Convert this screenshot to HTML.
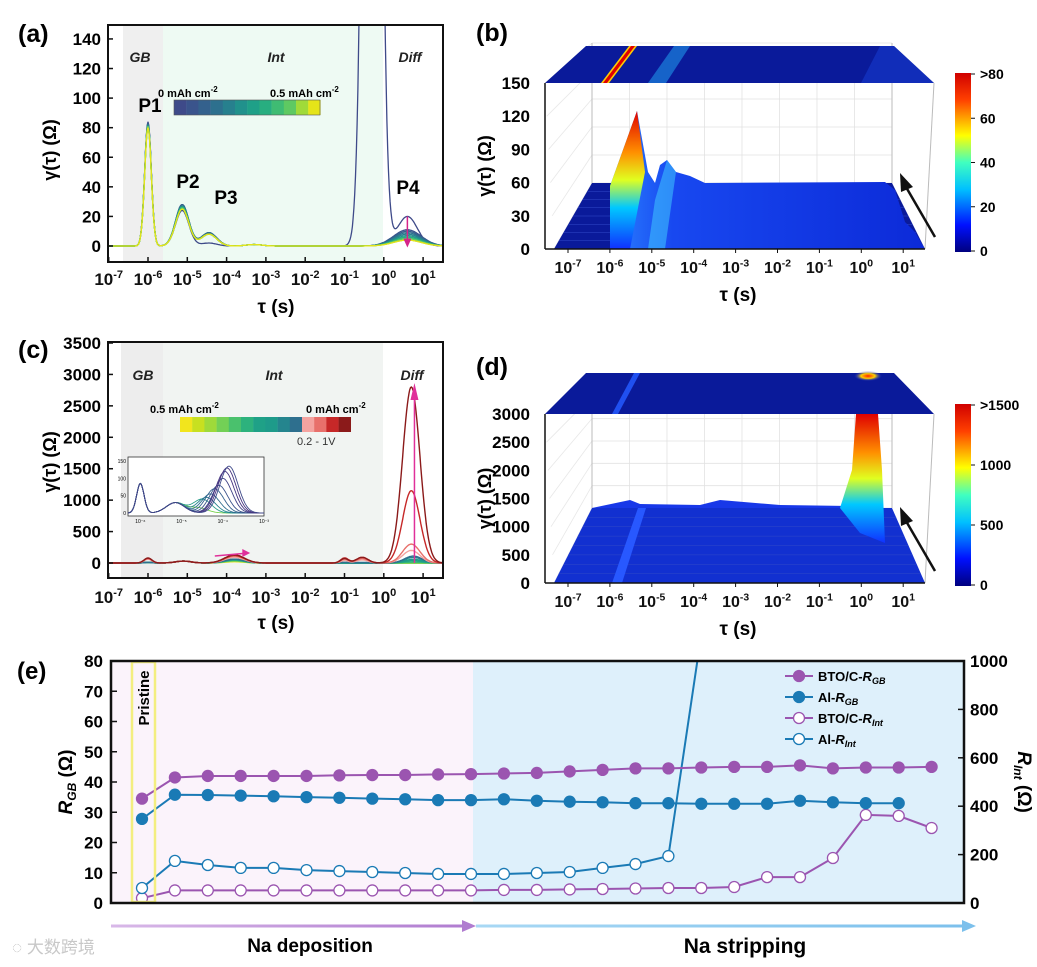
<!DOCTYPE html>
<html><head><meta charset="utf-8"><style>
html,body{margin:0;padding:0;background:#fff}
svg{display:block;font-family:"Liberation Sans","Noto Sans CJK SC",sans-serif}
</style></head><body>
<svg id="s" width="1037" height="967" viewBox="0 0 1037 967" xmlns="http://www.w3.org/2000/svg">
<defs>
<clipPath id="ca"><rect x="108" y="25" width="335" height="237"/></clipPath>
<clipPath id="cc"><rect x="108" y="342" width="335" height="236"/></clipPath>
<clipPath id="ce"><rect x="111" y="661" width="853" height="242"/></clipPath>
<clipPath id="ci"><rect x="128" y="457" width="136" height="59"/></clipPath>
<linearGradient id="jet" x1="0" y1="1" x2="0" y2="0">
<stop offset="0" stop-color="#00007f"/><stop offset="0.15" stop-color="#0010ff"/><stop offset="0.35" stop-color="#00c0ff"/><stop offset="0.5" stop-color="#40ffc0"/><stop offset="0.65" stop-color="#ffff00"/><stop offset="0.85" stop-color="#ff4000"/><stop offset="1" stop-color="#d00000"/></linearGradient>
<linearGradient id="ridge" x1="0" y1="1" x2="0" y2="0">
<stop offset="0" stop-color="#1030ff"/><stop offset="0.3" stop-color="#00c8ff"/><stop offset="0.5" stop-color="#e0ff20"/><stop offset="0.7" stop-color="#ff9000"/><stop offset="1" stop-color="#e00000"/></linearGradient>
<linearGradient id="body" x1="0" y1="0" x2="1" y2="0">
<stop offset="0" stop-color="#2a80ff"/><stop offset="0.2" stop-color="#1848f0"/><stop offset="1" stop-color="#0c2ad8"/></linearGradient>
<linearGradient id="arrP" x1="0" x2="1"><stop offset="0" stop-color="#d8b8e8"/><stop offset="1" stop-color="#b07cd0"/></linearGradient>
<linearGradient id="arrB" x1="0" x2="1"><stop offset="0" stop-color="#a8d8f4"/><stop offset="1" stop-color="#7cc0ec"/></linearGradient>
<radialGradient id="hot"><stop offset="0" stop-color="#ff2000"/><stop offset="0.5" stop-color="#ffd000"/><stop offset="1" stop-color="#1030e0" stop-opacity="0"/></radialGradient>
</defs>
<g id="root"></g>
</svg>
<script>
// ---------- Panel (a) data ----------
const aColors=['#3e4a89','#3a548c','#34618d','#2d708e','#27808e','#21918c','#1fa088','#28ae80','#3fbc73','#5ec962','#a0da39','#e5e419'];
const aP1=[84,83,83,82,82,82,81,81,81,81,80,80];
const aP2=[24,28,28,27,27,27,26,26,26,25,25,25];
const aP3=[2,9,9,9,8,8,8,8,8,8,8,8];
const aP4=[20,11,10,9,8,7,6,6,5,5,4,4];
const aSpike=[1000,0,0,0,0,0,0,0,0,0,0,0];
const aYTicks=[0,20,40,60,80,100,120,140];
// ---------- Panel (c) data ----------
const cColors=['#f2e51d','#c8e020','#9fda3a','#73d056','#4ac16d','#2db27d','#1fa187','#1e9b8a','#25858e','#2e6f8e','#f4a3a0','#e8706b','#c62828','#8b1a1a'];
const cDiff=[0,0,0,0,10,20,40,60,90,110,200,300,1150,2800];
const cIntB=[20,25,30,35,40,45,50,55,60,60,90,110,120,130];
const cGB=[10,10,10,10,10,10,10,10,10,10,60,70,75,80];
const cB1=[0,0,0,0,0,0,0,0,10,10,40,60,80,70];
const cB2=[0,0,0,0,0,0,0,0,0,10,50,70,90,90];
const cYTicks=[0,500,1000,1500,2000,2500,3000,3500];
const inCenters=[-4.6,-4.5,-4.4,-4.3,-4.2,-4.1,-4,-3.95,-3.9,-3.85];
const inHeights=[15,40,45,55,70,80,100,120,130,135];
const inColors=['#7ad151','#2a9d8a','#26838f','#2e6e8e','#33608d','#3a528b','#404387','#453581','#463480','#3f4a8a'];
// ---------- Panel (e) data ----------
const eBtoGB=[34.5,41.5,42,42,42,42,42.2,42.3,42.3,42.5,42.6,42.8,43,43.5,44,44.5,44.5,44.8,45,45,45.5,44.5,44.8,44.8,45];
const eAlGB=[27.8,35.8,35.7,35.5,35.3,35,34.8,34.5,34.3,34,34,34.3,33.8,33.5,33.3,33,33,32.8,32.8,32.8,33.8,33.3,33,33];
const eBtoInt=[20,52,52,52,52,52,52,52,52,52,52,54,54,56,58,60,62,62,66,107,107,186,364,360,310];
const eAlInt=[62,174,157,145,145,136,132,128,124,120,120,120,124,128,145,161,194,1110];
const eLTicks=[0,10,20,30,40,50,60,70,80];
const eRTicks=[0,200,400,600,800,1000];
const logTicks=[-7,-6,-5,-4,-3,-2,-1,0,1];

const NS='http://www.w3.org/2000/svg';
const root=document.getElementById('root');
function mk(tag,attrs,parent,text){const e=document.createElementNS(NS,tag);for(const k in attrs)e.setAttribute(k,attrs[k]);if(text!==undefined)e.textContent=text;(parent||root).appendChild(e);return e;}
function sup(x,y,exp,size,parent){const t=mk('text',{x:x,y:y,'font-size':size,'font-weight':'bold','text-anchor':'middle',fill:'#111'},parent);
 const a=document.createElementNS(NS,'tspan');a.textContent='10';t.appendChild(a);
 const b=document.createElementNS(NS,'tspan');b.setAttribute('dy',-size*0.4);b.setAttribute('font-size',size*0.65);b.textContent=exp;t.appendChild(b);return t;}
function unitLabel(x,y,txt,parent){const t=mk('text',{x:x,y:y,'font-size':11,'font-weight':'bold'},parent,txt);
 const b=document.createElementNS(NS,'tspan');b.setAttribute('dy',-5);b.setAttribute('font-size',8);b.textContent='-2';t.appendChild(b);return t;}
function gauss(lx,c,w){return Math.exp(-0.5*((lx-c)/w)**2);}

// ===== Panel (a) =====
const ax=l=>108.7+39.3*(l+7), ay=v=>246-v*1.479;
const ga=mk('g',{});


mk('rect',{x:123,y:25,width:40,height:237,fill:'#efefef'},ga);
mk('rect',{x:163,y:25,width:220,height:237,fill:'#eefaf3'},ga);
const pa=mk('g',{'clip-path':'url(#ca)'},ga);
for(let i=0;i<aColors.length;i++){let d='';for(let lx=-7.3;lx<=1.55;lx+=0.02){const w4=i===0?0.25:0.35;const v=aP1[i]*gauss(lx,-6,0.085)+aP2[i]*gauss(lx,-5.13,0.17)+aP3[i]*gauss(lx,-4.45,0.2)+aP4[i]*gauss(lx,0.6,w4)+aSpike[i]*gauss(lx,-0.3,0.17)+1*gauss(lx,-3.3,0.2);d+=(d?'L':'M')+ax(lx).toFixed(1)+','+ay(v).toFixed(1);}
 const p=mk('path',{d:d,fill:'none',stroke:aColors[i],'stroke-width':1.3},pa);
 
 }
mk('line',{x1:ax(0.6),y1:ay(20),x2:ax(0.6),y2:ay(2),stroke:'#d6248a','stroke-width':1.5},ga);
mk('path',{d:`M${ax(0.6)-4},${ay(5)} L${ax(0.6)+4},${ay(5)} L${ax(0.6)},${ay(-1)} Z`,fill:'#d6248a'},ga);
mk('rect',{x:108,y:25,width:335,height:237,fill:'none',stroke:'#111','stroke-width':2},ga);
aYTicks.forEach(v=>{mk('line',{x1:108,y1:ay(v),x2:113,y2:ay(v),stroke:'#111','stroke-width':1.5},ga);mk('text',{x:101,y:ay(v)+6,'font-size':17,'font-weight':'bold','text-anchor':'end'},ga,v);});
logTicks.forEach(l=>{mk('line',{x1:ax(l),y1:262,x2:ax(l),y2:257,stroke:'#111','stroke-width':1.5},ga);sup(ax(l),285,l,17,ga);});
mk('text',{x:140,y:62,'font-size':14,'font-weight':'bold','font-style':'italic','text-anchor':'middle',fill:'#222'},ga,'GB');
mk('text',{x:276,y:62,'font-size':14,'font-weight':'bold','font-style':'italic','text-anchor':'middle',fill:'#222'},ga,'Int');
mk('text',{x:410,y:62,'font-size':14,'font-weight':'bold','font-style':'italic','text-anchor':'middle',fill:'#222'},ga,'Diff');
[['P1',150,112],['P2',188,188],['P3',226,204],['P4',408,194]].forEach(p=>mk('text',{x:p[1],y:p[2],'font-size':19,'font-weight':'bold','text-anchor':'middle'},ga,p[0]));
const cbA=mk('g',{},ga);
aColors.forEach((c,i)=>mk('rect',{x:174+i*12.2,y:100,width:12.4,height:15,fill:c},cbA));
mk('rect',{x:174,y:100,width:146,height:15,fill:'none',stroke:'#555','stroke-width':0.6},cbA);
unitLabel(158,97,'0 mAh cm',cbA);
unitLabel(270,97,'0.5 mAh cm',cbA);
mk('text',{x:18,y:42,'font-size':25,'font-weight':'bold'},ga,'(a)');
mk('text',{x:0,y:0,'font-size':18,'font-weight':'bold','text-anchor':'middle',transform:'translate(56,150) rotate(-90)'},ga,'γ(τ) (Ω)');
mk('text',{x:276,y:313,'font-size':19,'font-weight':'bold','text-anchor':'middle'},ga,'τ (s)');

// ===== Panel (c) =====
const cy=v=>563-v*220/3500;
const gc=mk('g',{});


mk('rect',{x:121,y:342,width:42,height:236,fill:'#ededed'},gc);
mk('rect',{x:163,y:342,width:220,height:236,fill:'#f1f4f2'},gc);
const pc=mk('g',{'clip-path':'url(#cc)'},gc);
for(let i=0;i<cColors.length;i++){let d='';const cen=i>=10?0.7:0.75;for(let lx=-7.3;lx<=1.55;lx+=0.02){const v=cGB[i]*gauss(lx,-6,0.1)+30*gauss(lx,-5.1,0.2)+cIntB[i]*gauss(lx,-3.8,0.25)+cB1[i]*gauss(lx,-1,0.1)+cB2[i]*gauss(lx,-0.55,0.15)+cDiff[i]*gauss(lx,cen,0.22);d+=(d?'L':'M')+ax(lx).toFixed(1)+','+cy(v).toFixed(1);}
 const p=mk('path',{d:d,fill:'none',stroke:cColors[i],'stroke-width':1.4},pc);
 
 }
mk('line',{x1:ax(0.78),y1:563,x2:ax(0.78),y2:392,stroke:'#e0309a','stroke-width':1.5},gc);
mk('path',{d:`M${ax(0.78)-4},400 L${ax(0.78)+4},400 L${ax(0.78)},383 Z`,fill:'#e0309a'},gc);
mk('path',{d:`M${ax(-4.3)},556 L${ax(-3.45)},553`,stroke:'#e0309a','stroke-width':1.5,fill:'none'},gc);
mk('path',{d:`M${ax(-3.6)},549 L${ax(-3.4)},553 L${ax(-3.6)},557 Z`,fill:'#e0309a'},gc);
mk('rect',{x:108,y:342,width:335,height:236,fill:'none',stroke:'#111','stroke-width':2},gc);
cYTicks.forEach(v=>{mk('line',{x1:108,y1:cy(v),x2:113,y2:cy(v),stroke:'#111','stroke-width':1.5},gc);mk('text',{x:101,y:cy(v)+6,'font-size':17,'font-weight':'bold','text-anchor':'end'},gc,v);});
logTicks.forEach(l=>{mk('line',{x1:ax(l),y1:578,x2:ax(l),y2:573,stroke:'#111','stroke-width':1.5},gc);sup(ax(l),603,l,17,gc);});
mk('text',{x:143,y:380,'font-size':14,'font-weight':'bold','font-style':'italic','text-anchor':'middle',fill:'#222'},gc,'GB');
mk('text',{x:274,y:380,'font-size':14,'font-weight':'bold','font-style':'italic','text-anchor':'middle',fill:'#222'},gc,'Int');
mk('text',{x:412,y:380,'font-size':14,'font-weight':'bold','font-style':'italic','text-anchor':'middle',fill:'#222'},gc,'Diff');
const cbC=mk('g',{},gc);
cColors.forEach((c,i)=>mk('rect',{x:180+i*12.2,y:417,width:12.4,height:15,fill:c},cbC));
unitLabel(150,413,'0.5 mAh cm',cbC);
unitLabel(306,413,'0 mAh cm',cbC);
mk('text',{x:297,y:445,'font-size':11,fill:'#333'},cbC,'0.2  -  1V');
const gi=mk('g',{},gc);
mk('rect',{x:128,y:457,width:136,height:59,fill:'#fff',stroke:'#333','stroke-width':0.8},gi);
const ix=l=>128+136*(l+6.3)/3.3, iy=v=>513-v*52/150;
const pi=mk('g',{'clip-path':'url(#ci)'},gi);
inColors.forEach((c,i)=>{let d='';for(let lx=-6.3;lx<=-3;lx+=0.02){const v=85*gauss(lx,-6,0.09)+30*gauss(lx,-5.15,0.22)+inHeights[i]*gauss(lx,inCenters[i],0.22);d+=(d?'L':'M')+ix(lx).toFixed(1)+','+iy(v).toFixed(1);}
 const p=mk('path',{d:d,fill:'none',stroke:c,'stroke-width':0.9},pi);
 
 });
[0,50,100,150].forEach(v=>mk('text',{x:126,y:iy(v)+2,'font-size':5,'text-anchor':'end'},gi,v));
[-6,-5,-4,-3].forEach(l=>mk('text',{x:ix(l),y:523,'font-size':5,'text-anchor':'middle'},gi,'10'+['⁻⁶','⁻⁵','⁻⁴','⁻³'][l+6]));
mk('text',{x:18,y:358,'font-size':25,'font-weight':'bold'},gc,'(c)');
mk('text',{x:0,y:0,'font-size':18,'font-weight':'bold','text-anchor':'middle',transform:'translate(56,462) rotate(-90)'},gc,'γ(τ) (Ω)');
mk('text',{x:276,y:629,'font-size':19,'font-weight':'bold','text-anchor':'middle'},gc,'τ (s)');

// ===== 3D panels (b),(d) =====
function panel3d(name,oy,topY,axTop,backY,yTicks,label,cbLabels,kind){
 const g=mk('g',{});
 const bx=l=>568+41.9*(l+7);
 const BL=592,BR=892,FL=554,FR=925,TL=545,TR=934;
 for(let k=0;k<9;k++){const x=BL+k*(BR-BL)/8;mk('line',{x1:x,y1:axTop-35,x2:x,y2:backY,stroke:'#e2e2e2','stroke-width':0.8},g);}
 const n=yTicks.length-1;
 yTicks.forEach((v,k)=>{const y=oy-(oy-axTop)*k/n;const yb=backY-(backY-(axTop-40))*k/n;
  mk('line',{x1:BL,y1:yb,x2:BR,y2:yb,stroke:'#e2e2e2','stroke-width':0.8},g);
  mk('line',{x1:TL+(FL-TL)*(1-k/n),y1:y,x2:BL,y2:yb,stroke:'#e8e8e8','stroke-width':0.8},g);
  mk('text',{x:530,y:y+6,'font-size':17,'font-weight':'bold','text-anchor':'end'},g,v);});
 mk('line',{x1:BL,y1:axTop-40,x2:BL,y2:backY,stroke:'#bbb'},g);mk('line',{x1:BR,y1:axTop-40,x2:BR,y2:backY,stroke:'#bbb'},g);mk('line',{x1:TR,y1:axTop,x2:FR,y2:oy,stroke:'#bbb'},g);
 mk('polygon',{points:`586,${topY} 894,${topY} ${TR},${axTop} ${TL},${axTop}`,fill:'#0a1a9a'},g);
 mk('polygon',{points:`${FL},${oy} ${FR},${oy} ${BR},${backY} ${BL},${backY}`,fill:kind==='b'?'#0a1a9a':'#1230d0'},g);
 for(let k=1;k<8;k++){const t=k/8;mk('line',{x1:FL+(BL-FL)*t,y1:oy-(oy-backY)*t,x2:FR-(FR-BR)*t,y2:oy-(oy-backY)*t,stroke:'#3048c8','stroke-width':0.6},g);}
 if(kind==='b'){
  mk('polygon',{points:`601,${axTop} 609,${axTop} 637,${topY} 629,${topY}`,fill:'#ffcc00'},g);
  mk('polygon',{points:`603,${axTop} 607,${axTop} 635,${topY} 631,${topY}`,fill:'#e00000'},g);
  mk('polygon',{points:`648,${axTop} 666,${axTop} 690,${topY} 674,${topY}`,fill:'#20a0f0',opacity:0.55},g);
  mk('polygon',{points:`861,${axTop} 934,${axTop} 894,${topY} 880,${topY}`,fill:'#1840d8',opacity:0.5},g);
  mk('polygon',{points:`610,249 610,${oy-63} 637,111 648,172 655,183 660,165 667,160 676,172 690,176 705,183 885,182 895,190 905,222 915,232 925,249`,fill:'url(#body)'},g);
  mk('polygon',{points:`610,249 610,${oy-63} 637,111 645,172 630,249`,fill:'url(#ridge)'},g);
  mk('polygon',{points:`648,249 655,200 667,160 676,172 665,249`,fill:'#40c8ff',opacity:0.55},g);
 }else{
  mk('polygon',{points:`612,${axTop} 618,${axTop} 640,${topY} 634,${topY}`,fill:'#2050f0'},g);
  mk('ellipse',{cx:868,cy:topY+3,rx:14,ry:5,fill:'url(#hot)'},g);
  mk('polygon',{points:`612,${oy} 622,${oy} 646,${backY} 638,${backY}`,fill:'#2858ff'},g);
  mk('polygon',{points:`${BL},${backY} 850,${backY} 850,${backY-2} 780,${backY-3} 720,${backY-8} 700,${backY-3} 640,${backY-4} 630,${backY-8}`,fill:'#1838e8'},g);
  mk('polygon',{points:`840,${backY} 852,470 856,414 878,414 882,470 885,${backY+35} 860,${backY+25}`,fill:'url(#ridge)'},g);
 }
 mk('line',{x1:TL,y1:axTop,x2:TL,y2:oy,stroke:'#111','stroke-width':1.5},g);
 mk('line',{x1:TL,y1:oy,x2:FR,y2:oy,stroke:'#111','stroke-width':1.5},g);
 logTicks.forEach(l=>{mk('line',{x1:bx(l),y1:oy,x2:bx(l),y2:oy+4,stroke:'#111'},g);sup(bx(l),oy+24,l,16,g);});
 mk('text',{x:738,y:oy+52,'font-size':19,'font-weight':'bold','text-anchor':'middle'},g,'τ (s)');
 mk('text',{x:0,y:0,'font-size':18,'font-weight':'bold','text-anchor':'middle',transform:`translate(491,${(axTop+oy)/2}) rotate(-90)`},g,'γ(τ) (Ω)');
 mk('text',{x:476,y:oy-208,'font-size':25,'font-weight':'bold'},g,label);
 mk('line',{x1:935,y1:oy-12,x2:906,y2:oy-62,stroke:'#111','stroke-width':2.5},g);
 mk('path',{d:`M900,${oy-76} L913,${oy-62} L901,${oy-57} Z`,fill:'#111'},g);
 const cb=mk('rect',{x:955,y:axTop-10,width:16,height:oy+3-(axTop-10),fill:'url(#jet)'},g);
 
 cbLabels.forEach((s,k)=>{const y=oy+2-(oy+2-(axTop-9))*k/(cbLabels.length-1);mk('line',{x1:971,y1:y,x2:975,y2:y,stroke:'#111'},g);mk('text',{x:980,y:y+5,'font-size':14,'font-weight':'bold'},g,s);});
}
panel3d('panel-b',249,46,83,183,[0,30,60,90,120,150],'(b)',['0','20','40','60','>80'],'b');
panel3d('panel-d',583,373,414,508,[0,500,1000,1500,2000,2500,3000],'(d)',['0','500','1000','>1500'],'d');

// ===== Panel (e) =====
const ex=i=>142+i*32.9, eyL=v=>903-v*242/80, eyR=v=>903-v*242/1000;
const ge=mk('g',{});


mk('rect',{x:111,y:661,width:362,height:242,fill:'#fbf3fb'},ge);
mk('rect',{x:473,y:661,width:491,height:242,fill:'#def0fb'},ge);
const pe=mk('g',{'clip-path':'url(#ce)'},ge);
function series(vals,fy,col,filled,nm){
 const pts=vals.map((v,i)=>ex(i).toFixed(1)+','+fy(v).toFixed(1)).join(' ');
 const l=mk('polyline',{points:pts,fill:'none',stroke:col,'stroke-width':2},pe);
 
 
 vals.forEach((v,i)=>{const y=fy(v);if(y<655)return;const c=mk('circle',{cx:ex(i),cy:y,r:5.5,fill:filled?col:'#fff',stroke:col,'stroke-width':1.3},pe);
  
  });
}
series(eBtoInt,eyR,'#9b55b0',false,'bto-rint');
series(eAlInt,eyR,'#1a7ab5',false,'al-rint');
series(eBtoGB,eyL,'#9b55b0',true,'bto-rgb');
series(eAlGB,eyL,'#1a7ab5',true,'al-rgb');
mk('rect',{x:132,y:662,width:23,height:240,fill:'none',stroke:'#f3ee80','stroke-width':2.5},ge);
mk('text',{x:0,y:0,'font-size':15,'font-weight':'bold','text-anchor':'middle',transform:'translate(149,698) rotate(-90)'},ge,'Pristine');
mk('rect',{x:111,y:661,width:853,height:242,fill:'none',stroke:'#111','stroke-width':2.5},ge);
eLTicks.forEach(v=>{mk('line',{x1:111,y1:eyL(v),x2:117,y2:eyL(v),stroke:'#111','stroke-width':1.5},ge);mk('text',{x:103,y:eyL(v)+6,'font-size':17,'font-weight':'bold','text-anchor':'end'},ge,v);});
eRTicks.forEach(v=>{mk('line',{x1:958,y1:eyR(v),x2:964,y2:eyR(v),stroke:'#111','stroke-width':1.5},ge);mk('text',{x:970,y:eyR(v)+6,'font-size':17,'font-weight':'bold'},ge,v);});
const lg=mk('g',{},ge);
[['BTO/C-','GB','#9b55b0',1],['Al-','GB','#1a7ab5',1],['BTO/C-','Int','#9b55b0',0],['Al-','Int','#1a7ab5',0]].forEach((e,k)=>{const y=676+k*21;
 const it=mk('g',{},lg);
 mk('line',{x1:785,y1:y,x2:813,y2:y,stroke:e[2],'stroke-width':2},it);mk('circle',{cx:799,cy:y,r:5.5,fill:e[3]?e[2]:'#fff',stroke:e[2],'stroke-width':1.3},it);
 const t=mk('text',{x:818,y:y+5,'font-size':13,'font-weight':'bold'},it,e[0]);const r=document.createElementNS(NS,'tspan');r.setAttribute('font-style','italic');r.textContent='R';t.appendChild(r);
 const s=document.createElementNS(NS,'tspan');s.setAttribute('font-size',9);s.setAttribute('font-style','italic');s.setAttribute('dy',3);s.textContent=e[1];t.appendChild(s);});
mk('text',{x:17,y:679,'font-size':24,'font-weight':'bold'},ge,'(e)');
const yl=mk('text',{x:0,y:0,'font-size':19,'font-weight':'bold','text-anchor':'middle',transform:'translate(72,782) rotate(-90)'},ge);
yl.innerHTML='<tspan font-style="italic">R</tspan><tspan font-size="12" font-style="italic" dy="4">GB</tspan><tspan dy="-4"> (Ω)</tspan>';
const yr=mk('text',{x:0,y:0,'font-size':19,'font-weight':'bold','text-anchor':'middle',transform:'translate(1018,782) rotate(90)'},ge);
yr.innerHTML='<tspan font-style="italic">R</tspan><tspan font-size="12" font-style="italic" dy="4">Int</tspan><tspan dy="-4"> (Ω)</tspan>';
const a1=mk('rect',{x:111,y:924.5,width:356,height:3,fill:'url(#arrP)'},ge);

mk('path',{d:'M462,920 L476,926 L462,932 Z',fill:'#b07cd0'},ge);
const a2=mk('rect',{x:476,y:924.5,width:490,height:3,fill:'url(#arrB)'},ge);

mk('path',{d:'M962,920 L976,926 L962,932 Z',fill:'#7cc0ec'},ge);
mk('text',{x:310,y:952,'font-size':19,'font-weight':'bold','text-anchor':'middle'},ge,'Na deposition');
mk('text',{x:745,y:953,'font-size':21,'font-weight':'bold','text-anchor':'middle'},ge,'Na stripping');
mk('text',{x:12,y:953,'font-size':17,fill:'#c8c8c8'},ge,'◌ 大数跨境');
</script>
</body></html>
